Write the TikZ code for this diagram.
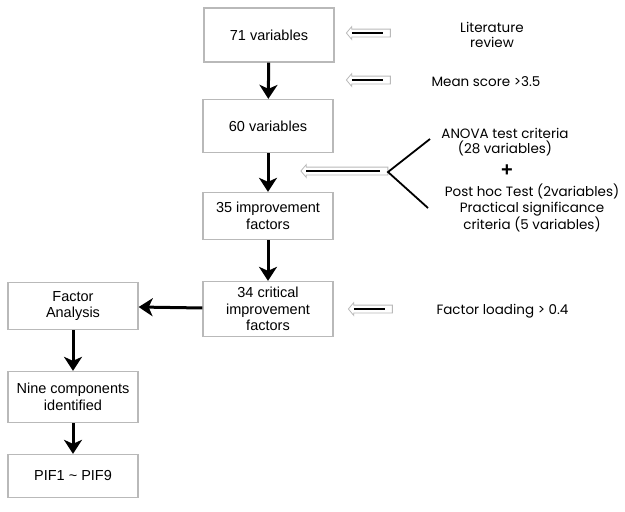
\documentclass[tikz,border=0pt]{standalone}
\usepackage{fontspec}
\setmainfont{Liberation Sans}
\newfontfamily\sidefont{Poppins}
\usetikzlibrary{shapes.arrows,arrows.meta}

\begin{document}
\begin{tikzpicture}[x=1pt,y=-1pt,
    box/.style={rectangle, draw=gray!55, line width=1.3pt, minimum width=130pt, align=center, inner sep=0pt, font=\fontsize{14.5}{16.5}\selectfont},
    side/.style={align=center, font=\sidefont\fontsize{13.5}{15.5}\selectfont},
    arrow/.style={line width=3pt,-{Stealth[length=14pt,width=18pt,inset=4pt]}},
    hollow/.style={single arrow, draw=gray!55, line width=0.8pt, shape border rotate=180, single arrow head extend=2.5pt, single arrow tip angle=100, minimum height=44pt, inner sep=3.5pt}
]
\useasboundingbox (0,0) rectangle (625,512);

% Main chain
\node[box, minimum height=54pt] (n71) at (269,35) {71 variables};
\node[box, minimum height=53pt] (n60) at (268,126) {60 variables};
\node[box, minimum height=47pt] (n35) at (268,216) {35 improvement\\factors};
\node[box, minimum height=55pt] (n34) at (268,309) {34 critical\\improvement\\factors};
\node[box, minimum height=47pt] (fa) at (73,306) {Factor\\Analysis};
\node[box, minimum height=51pt] (nine) at (73,397) {Nine components\\identified};
\node[box, minimum height=43pt] (pif) at (73,476) {PIF1 \textasciitilde{} PIF9};

% Side notes
\node[side] (lit) at (492,35) {Literature\\review};
\node[side, anchor=west] (mean) at (428,82) {Mean score >3.5};
\node[side] (anova) at (505,142) {ANOVA test criteria\\(28 variables)};
\node[font=\bfseries\fontsize{20}{20}\selectfont, inner sep=0pt] (plus) at (507,171) {+};
\node[side] (post) at (532,208) {Post hoc Test (2variables)\\Practical significance\\criteria (5 variables)};
\node[side, anchor=west] (load) at (433,311) {Factor loading > 0.4};

% Hollow arrows
\node[hollow] (h1) at (370,33) {};
\node[hollow] (h2) at (370,80) {};
\node[hollow, minimum height=87pt] (h3) at (346,171) {};
\node[hollow] (h4) at (372,309) {};
\foreach \h in {h1,h2,h3,h4}
  \draw[line width=1.3pt] ([xshift=6pt]\h.tip) -- ([xshift=-8pt]\h.tail);

% Bracket
\coordinate (vmid) at (388,172);
\coordinate (vtop) at (430,139);
\coordinate (vbot) at (428,208);
\draw[line width=1.8pt] (vtop) -- (vmid) -- (vbot);

% Arrows
\draw[arrow] (n71) -- (n60);
\draw[arrow] (n60) -- (n35);
\draw[arrow] (n35) -- (n34);
\draw[arrow] (n34) -- (fa);
\draw[arrow] (fa) -- (nine);
\draw[arrow] (nine) -- (pif);

\end{tikzpicture}
\end{document}
